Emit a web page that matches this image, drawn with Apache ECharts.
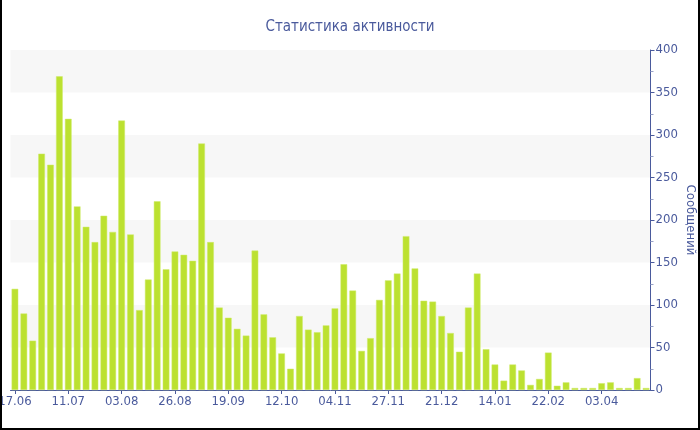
<!DOCTYPE html>
<html>
<head>
<meta charset="utf-8">
<script src="https://cdn.jsdelivr.net/npm/echarts@6/dist/echarts.min.js"></script>
<style>
html,body{margin:0;padding:0;background:#fff;}
#wrap{position:relative;width:700px;height:430px;overflow:hidden;}
#chart{width:700px;height:430px;}
#frame{position:absolute;left:0;top:-5px;width:700px;height:435px;box-sizing:border-box;border-left:2px solid #000;border-right:2px solid #000;border-bottom:2px solid #000;pointer-events:none;}
</style>
</head>
<body>
<div id="wrap"><div id="chart"></div><div id="frame"></div></div>
<script>
const titleText = 'Статистика активности';
const yName = 'Сообщений';
const categories = [
  '17.06','21.06','25.06','29.06','03.07','07.07',
  '11.07','15.07','19.07','23.07','27.07','31.07',
  '03.08','07.08','11.08','15.08','19.08','23.08',
  '26.08','30.08','03.09','07.09','11.09','15.09',
  '19.09','23.09','27.09','01.10','05.10','09.10',
  '12.10','16.10','20.10','24.10','28.10','01.11',
  '04.11','08.11','12.11','16.11','20.11','24.11',
  '27.11','01.12','05.12','09.12','13.12','17.12',
  '21.12','25.12','29.12','02.01','06.01','10.01',
  '14.01','20.01','27.01','03.02','09.02','15.02',
  '22.02','28.02','07.03','14.03','20.03','27.03',
  '03.04','10.04','17.04','24.04','01.05','08.05'
];
const messages = [
  119, 90, 58, 278, 265, 369,
  319, 216, 192, 174, 205, 186,
  317, 183, 94, 130, 222, 142,
  163, 159, 152, 290, 174, 97,
  85, 72, 64, 164, 89, 62,
  43, 25, 87, 71, 68, 76,
  96, 148, 117, 46, 61, 106,
  129, 137, 181, 143, 105, 104,
  87, 67, 45, 97, 137, 48,
  30, 11, 30, 23, 6, 13,
  44, 5, 9, 2, 2, 2,
  8, 9, 2, 2, 14, 2
];
const yTicks = [0, 50, 100, 150, 200, 250, 300, 350, 400];

const FONT = '"DejaVu Sans Condensed", "Noto Sans", sans-serif';
const BLUE = '#4a5a9c';
const chart = echarts.init(document.getElementById('chart'), null, {renderer: 'canvas'});
chart.setOption({
  animation: false,
  backgroundColor: '#fff',
  title: {
    text: titleText, left: 'center', top: 15,
    textStyle: {color: BLUE, fontFamily: FONT, fontSize: 15, fontWeight: 'normal'}
  },
  grid: {left: 10.5, right: 49.5, top: 50, bottom: 40, containLabel: false, outerBoundsMode: 'none'},
  xAxis: {
    type: 'category', data: categories,
    axisLine: {lineStyle: {color: BLUE, width: 1}},
    axisTick: {show: true, alignWithLabel: true, interval: 5, length: 4, lineStyle: {color: BLUE}},
    axisLabel: {interval: 5, color: BLUE, fontFamily: FONT, fontSize: 13, margin: 5, hideOverlap: false},
    splitLine: {show: false}
  },
  yAxis: {
    type: 'value', position: 'right',
    min: yTicks[0], max: yTicks[yTicks.length - 1], interval: 50,
    name: yName, nameLocation: 'middle', nameRotate: -90, nameGap: 33, nameMoveOverlap: false,
    nameTextStyle: {color: BLUE, fontFamily: FONT, fontSize: 13},
    axisLine: {show: true, lineStyle: {color: BLUE}},
    axisTick: {show: true, length: 4, lineStyle: {color: BLUE}},
    minorTick: {show: true, splitNumber: 2, length: 3, lineStyle: {color: '#9aa3c8'}},
    axisLabel: {color: BLUE, fontFamily: FONT, fontSize: 13, margin: 5},
    splitLine: {show: false},
    splitArea: {show: true, areaStyle: {color: ['#ffffff', '#f7f7f7']}}
  },
  series: [{
    type: 'bar', data: messages,
    barCategoryGap: '25%',
    barMinHeight: 2,
    itemStyle: {color: '#bce130', borderColor: '#cfea6a', borderWidth: 0.5}
  }]
});
</script>
</body>
</html>
